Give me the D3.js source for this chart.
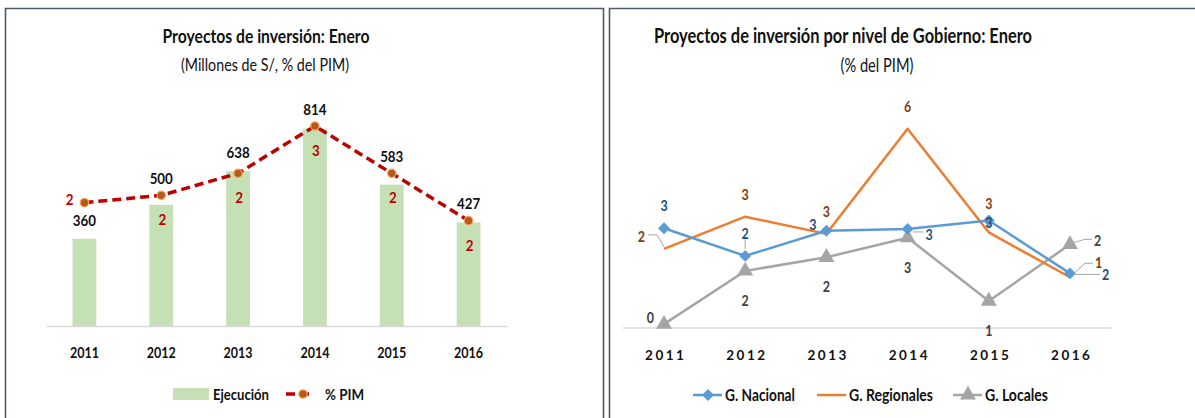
<!DOCTYPE html>
<html>
<head>
<meta charset="utf-8">
<script src="https://cdn.jsdelivr.net/npm/d3@7"></script>
<style>
  html, body { margin: 0; padding: 0; background: #fff; }
  svg { display: block; }
  text { font-family: Lato, "Open Sans", sans-serif; }
</style>
</head>
<body>
<svg id="chart" width="1195" height="418"></svg>
<script>
// ---- data ----
const years = ["2011", "2012", "2013", "2014", "2015", "2016"];
const ejecucion = [360, 500, 638, 814, 583, 427];          // millones de S/
const pctPim = [1.85, 1.96, 2.29, 3.0, 2.29, 1.58];          // % del PIM

const gNacional = [2.85, 2.06, 2.78, 2.83, 3.07, 1.56];
const gRegionales = [2.26, 3.18, 2.69, 5.69, 2.73, 1.45];
const gLocales = [0.11, 1.63, 2.02, 2.58, 0.77, 2.39];

// where each data label sits relative to its point
const nacionalLabelPos = ["above", "above", "left", "nearRight", "center", "farRight"];
const regionalesLabelPos = ["leftUp", "above", "above", "above", "highAbove", "rightUp"];
const localesLabelPos = ["left", "below", "below", "below", "below", "right"];

const svg = d3.select("#chart");
const fmt0 = d3.format(".0f");

// squeeze text horizontally: to a given width, or by a factor of its natural width
function condense(sel, target, isFactor) {
  sel.each(function () {
    const w = this.getComputedTextLength();
    const t = isFactor ? w * target : target;
    d3.select(this).attr("textLength", t).attr("lengthAdjust", "spacingAndGlyphs");
  });
  return sel;
}
const SQ = 0.86;

// ---- panel frames ----
const frameColor = "#4b5a70";
svg.append("path")
  .attr("d", "M5.5,420 V8.5 H603.5 V420")
  .attr("fill", "none").attr("stroke", frameColor).attr("stroke-width", 1.6);
svg.append("path")
  .attr("d", "M609.5,420 V8.5 H1197")
  .attr("fill", "none").attr("stroke", frameColor).attr("stroke-width", 1.6);

// =============== left chart ===============
{
  const g = svg.append("g");
  const x = d3.scaleBand().domain(years).range([46, 507]).paddingInner(0.69).paddingOuter(0.345);
  const y = d3.scaleLinear().domain([0, 1000]).range([326, 83.5]);
  const y2 = d3.scaleLinear().domain([0, 3]).range([326, 126]);
  const cx = d => x(d) + x.bandwidth() / 2;

  condense(g.append("text").attr("x", 266).attr("y", 43)
    .attr("text-anchor", "middle").attr("font-size", 19).attr("font-weight", "bold")
    .attr("fill", "#111").text("Proyectos de inversión: Enero"), 207);
  condense(g.append("text").attr("x", 265).attr("y", 71)
    .attr("text-anchor", "middle").attr("font-size", 18)
    .attr("fill", "#111").text("(Millones de S/, % del PIM)"), 168);

  // bars
  g.selectAll("rect.bar").data(years).join("rect")
    .attr("class", "bar")
    .attr("x", d => x(d)).attr("width", x.bandwidth())
    .attr("y", (d, i) => y(ejecucion[i]))
    .attr("height", (d, i) => y(0) - y(ejecucion[i]))
    .attr("fill", "#c5e0b4");

  // baseline + category axis
  const ax = g.append("g").attr("transform", "translate(0,326)")
    .call(d3.axisBottom(x).tickSize(0).tickPadding(21));
  ax.select(".domain").attr("stroke", "#d9d9d9").attr("stroke-width", 1.5);
  condense(ax.selectAll("text").attr("font-size", 16).attr("font-weight", "bold")
    .attr("fill", "#111").attr("font-family", null), 29);

  // % PIM dashed line
  const line = d3.line().x((d, i) => cx(years[i])).y(d => y2(d));
  g.append("path").datum(pctPim).attr("d", line)
    .attr("fill", "none").attr("stroke", "#c00000").attr("stroke-width", 3.5)
    .attr("stroke-dasharray", "9,5");
  g.selectAll("circle.pt").data(pctPim).join("circle")
    .attr("class", "pt")
    .attr("cx", (d, i) => cx(years[i])).attr("cy", d => y2(d)).attr("r", 4.2)
    .attr("fill", "#b55a1a").attr("stroke", "#f4a460").attr("stroke-width", 1.2);

  // bar value labels: above the bar, lifted over the line marker when it sits close
  condense(g.selectAll("text.bv").data(ejecucion).join("text")
    .attr("class", "bv")
    .attr("x", (d, i) => cx(years[i]))
    .attr("y", (d, i) => {
      const top = y(d), lp = y2(pctPim[i]);
      const c = (top - lp > 25) ? top - 18 : Math.min(top - 18, lp - 16);
      return c + 5;
    })
    .attr("text-anchor", "middle").attr("font-size", 15.5).attr("font-weight", "bold")
    .attr("fill", "#111").text(d => d), SQ, true);

  // % PIM labels
  condense(g.selectAll("text.pv").data(pctPim).join("text")
    .attr("class", "pv")
    .attr("x", (d, i) => i === 0 ? cx(years[i]) - 11 : cx(years[i]) + 1)
    .attr("y", (d, i) => i === 0 ? y2(d) + 2 : y2(d) + 30)
    .attr("text-anchor", (d, i) => i === 0 ? "end" : "middle")
    .attr("font-size", 15.5).attr("font-weight", "bold")
    .attr("fill", "#c00000").text(d => fmt0(d)), SQ, true);

  // legend
  const lg = g.append("g");
  lg.append("rect").attr("x", 173).attr("y", 388).attr("width", 36).attr("height", 12).attr("fill", "#c5e0b4");
  condense(lg.append("text").attr("x", 213).attr("y", 400).attr("font-size", 16).attr("font-weight", "bold")
    .attr("fill", "#111").text("Ejecución"), 56);
  lg.append("line").attr("x1", 286).attr("x2", 314).attr("y1", 394).attr("y2", 394)
    .attr("stroke", "#c00000").attr("stroke-width", 3.5).attr("stroke-dasharray", "9,5");
  lg.append("circle").attr("cx", 303).attr("cy", 394).attr("r", 4.2)
    .attr("fill", "#b55a1a").attr("stroke", "#f4a460").attr("stroke-width", 1.2);
  condense(lg.append("text").attr("x", 325).attr("y", 400).attr("font-size", 16).attr("font-weight", "bold")
    .attr("fill", "#111").text("% PIM"), 39);
}

// =============== right chart ===============
{
  const g = svg.append("g");
  const x = d3.scalePoint().domain(years).range([664, 1070]);
  const y = d3.scaleLinear().domain([0, 6]).range([328, 118]);

  condense(g.append("text").attr("x", 843).attr("y", 43)
    .attr("text-anchor", "middle").attr("font-size", 21).attr("font-weight", "bold")
    .attr("fill", "#111").text("Proyectos de inversión por nivel de Gobierno: Enero"), 378);
  condense(g.append("text").attr("x", 877).attr("y", 72)
    .attr("text-anchor", "middle").attr("font-size", 20)
    .attr("fill", "#111").text("(% del PIM)"), 73);

  g.append("line").attr("x1", 623).attr("x2", 1111).attr("y1", 328).attr("y2", 328)
    .attr("stroke", "#d9d9d9").attr("stroke-width", 1.5);
  const ax = g.append("g").attr("transform", "translate(0,328)")
    .call(d3.axisBottom(x).tickSize(0).tickPadding(22));
  ax.select(".domain").remove();
  ax.selectAll("text").attr("font-size", 13.5).attr("font-weight", "bold")
    .attr("letter-spacing", 2.5).attr("fill", "#111").attr("font-family", null)
    .attr("dx", 1.25);

  const series = [
    { name: "G. Nacional", values: gNacional, color: "#5b9bd5", label: "#1f4e79", marker: "diamond", pos: nacionalLabelPos, lw: 70 },
    { name: "G. Regionales", values: gRegionales, color: "#ed7d31", label: "#843c0c", marker: null, pos: regionalesLabelPos, lw: 84 },
    { name: "G. Locales", values: gLocales, color: "#a5a5a5", label: "#404040", marker: "triangle", pos: localesLabelPos, lw: 63 }
  ];
  const symbolOf = m => m === "diamond"
    ? d3.symbol().type(d3.symbolDiamond2).size(90)
    : d3.symbol().type(d3.symbolTriangle).size(110);

  const line = d3.line().x((d, i) => x(years[i])).y(d => y(d));
  // Locales underneath, Nacional on top
  [series[2], series[1], series[0]].forEach(s => {
    g.append("path").datum(s.values).attr("d", line)
      .attr("fill", "none").attr("stroke", s.color).attr("stroke-width", 2.5)
      .attr("stroke-linejoin", "round");
    if (s.marker) {
      g.selectAll(null).data(s.values).join("path")
        .attr("d", symbolOf(s.marker))
        .attr("transform", (d, i) => `translate(${x(years[i])},${y(d)})`)
        .attr("fill", s.color);
    }
  });

  // leader lines for labels set away from their points
  const leader = "#a6a6a6";
  const X = k => x(years[k]);
  const leaders = [
    [[X(0) - 16, y(gRegionales[0]) - 14], [X(0) - 7, y(gRegionales[0]) - 14], [X(0), y(gRegionales[0]) - 2]],
    [[X(1), y(gNacional[1]) - 17], [X(1), y(gNacional[1]) - 7]],
    [[X(3) + 5, y(gNacional[3]) + 3], [X(3) + 16, y(gNacional[3]) + 3]],
    [[X(5) + 4, y(gLocales[5]) - 2], [X(5) + 15, y(gLocales[5]) - 5], [X(5) + 22, y(gLocales[5]) - 5]],
    [[X(5) + 3, y(gRegionales[5]) - 3], [X(5) + 15, y(gRegionales[5]) - 14], [X(5) + 23, y(gRegionales[5]) - 14]],
    [[X(5) + 5, y(gNacional[5]) + 1], [X(5) + 30, y(gNacional[5]) + 1]]
  ];
  leaders.forEach(p => g.append("path").attr("d", d3.line()(p))
    .attr("fill", "none").attr("stroke", leader).attr("stroke-width", 1));

  // [dx, dy to glyph centre, anchor]
  const offsets = {
    above: [0, -22, "middle"], highAbove: [0, -28, "middle"], below: [0, 30, "middle"],
    left: [-10, -6, "end"], leftUp: [-19, -12, "end"],
    nearRight: [18, 6, "start"], right: [24, -3, "start"], farRight: [32, 2, "start"],
    rightUp: [25, -14, "start"], center: [0, 2, "middle"]
  };
  series.forEach(s => {
    condense(g.selectAll(null).data(s.values).join("text")
      .attr("x", (d, i) => x(years[i]) + offsets[s.pos[i]][0])
      .attr("y", (d, i) => y(d) + offsets[s.pos[i]][1] + 5)
      .attr("text-anchor", (d, i) => offsets[s.pos[i]][2])
      .attr("font-size", 14.5).attr("font-weight", "bold")
      .attr("fill", s.label).text(d => fmt0(d)), SQ, true);
  });

  // legend
  const lgX = [693, 817, 953];
  series.forEach((s, k) => {
    const lx = lgX[k];
    g.append("line").attr("x1", lx).attr("x2", lx + 29).attr("y1", 395).attr("y2", 395)
      .attr("stroke", s.color).attr("stroke-width", 2.5);
    if (s.marker) {
      g.append("path").attr("d", symbolOf(s.marker))
        .attr("transform", `translate(${lx + 15},395)`).attr("fill", s.color);
    }
    condense(g.append("text").attr("x", lx + 32).attr("y", 401).attr("font-size", 17)
      .attr("font-weight", "bold").attr("fill", "#111").text(s.name), s.lw);
  });
}
</script>
</body>
</html>
